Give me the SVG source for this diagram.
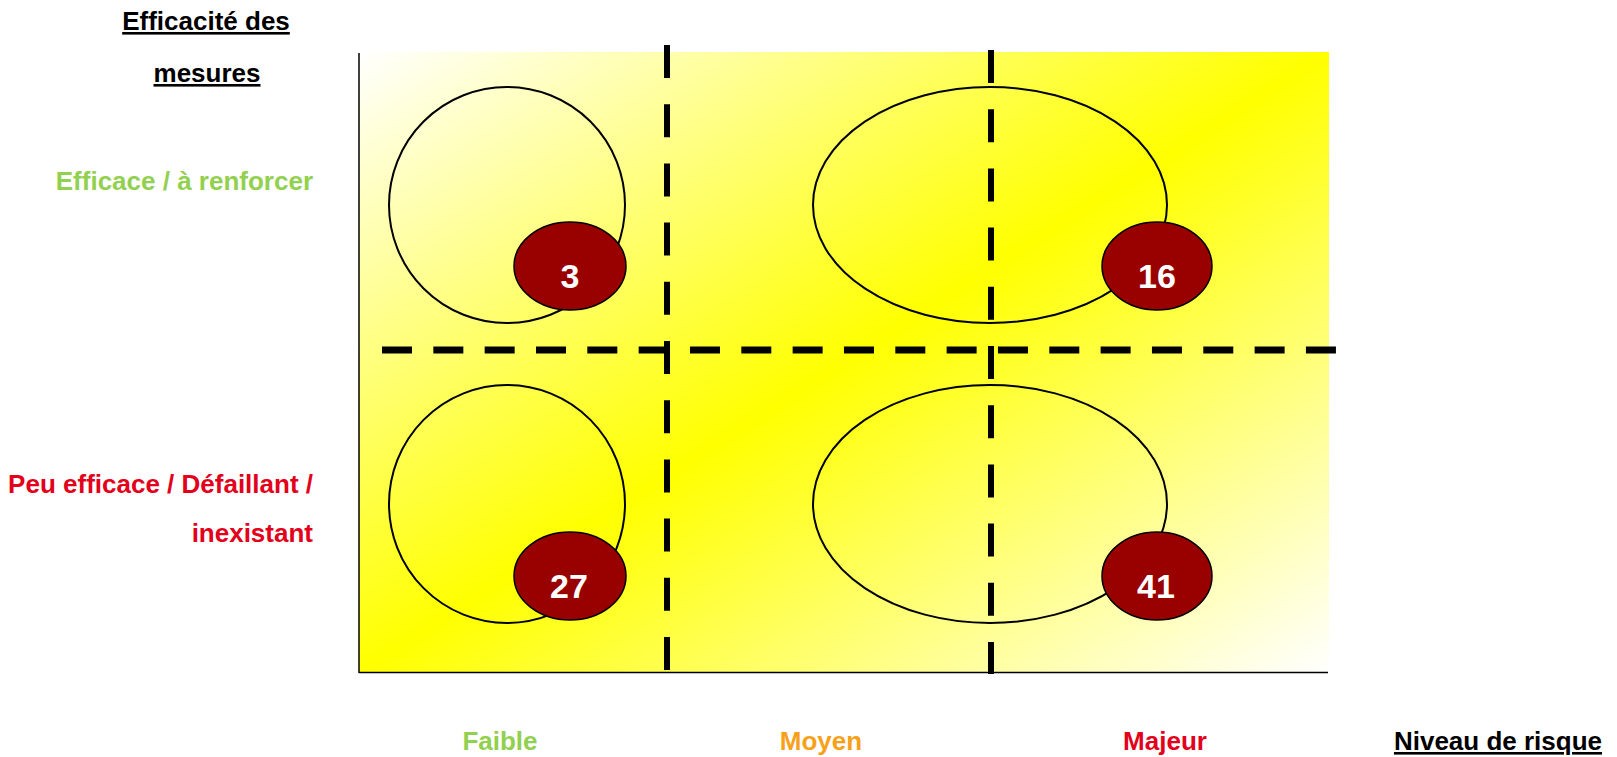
<svg xmlns="http://www.w3.org/2000/svg" width="1617" height="757" viewBox="0 0 1617 757">
  <defs>
    <linearGradient id="bg" x1="0" y1="0" x2="1" y2="1">
      <stop offset="0" stop-color="#FFFFFF"/>
      <stop offset="0.5" stop-color="#FFFF00"/>
      <stop offset="1" stop-color="#FFFFFF"/>
    </linearGradient>
  </defs>
  <style>
    text { font-family: "Liberation Sans", Arial, sans-serif; font-weight: bold; font-size: 26px; }
    .title { fill: #000000; text-decoration: underline; }
    .green { fill: #92D050; }
    .orange { fill: #F7A11A; }
    .red { fill: #E3001B; }
    .zone { fill: none; stroke: #000000; stroke-width: 2; }
    .count { fill: #990000; stroke: #000000; stroke-width: 1.5; }
    .num { fill: #FFFFFF; font-size: 34px; text-anchor: middle; }
    .vdash { stroke: #000000; stroke-width: 6; stroke-dasharray: 33 26.2; fill: none; }
    .hdash { stroke: #000000; stroke-width: 7; stroke-dasharray: 30 21.33; fill: none; }
    .axis { stroke: #000000; stroke-width: 1.5; fill: none; }
  </style>

  <g id="background">
    <rect x="359" y="52" width="970" height="620" fill="url(#bg)"/>
  </g>

  <g id="axes">
    <line class="axis" x1="359" y1="53" x2="359" y2="673"/>
    <line class="axis" x1="359" y1="672.5" x2="1328" y2="672.5"/>
  </g>

  <g id="grid">
    <line class="vdash" x1="667" y1="45" x2="667" y2="671"/>
    <line class="vdash" x1="991" y1="50" x2="991" y2="674"/>
    <line class="hdash" x1="382" y1="350" x2="1337" y2="350"/>
  </g>

  <g id="q-efficace-faible">
    <ellipse class="zone" cx="507" cy="205" rx="118" ry="118"/>
    <ellipse class="count" cx="570" cy="266" rx="56" ry="44"/>
    <text class="num" x="570" y="288">3</text>
  </g>

  <g id="q-efficace-majeur">
    <ellipse class="zone" cx="990" cy="205" rx="177" ry="118"/>
    <ellipse class="count" cx="1157" cy="266" rx="55" ry="44"/>
    <text class="num" x="1157" y="288">16</text>
  </g>

  <g id="q-defaillant-faible">
    <ellipse class="zone" cx="507" cy="504" rx="118" ry="119"/>
    <ellipse class="count" cx="570" cy="576" rx="56" ry="44"/>
    <text class="num" x="569" y="598">27</text>
  </g>

  <g id="q-defaillant-majeur">
    <ellipse class="zone" cx="990" cy="504" rx="177" ry="119"/>
    <ellipse class="count" cx="1157" cy="576" rx="55" ry="44"/>
    <text class="num" x="1156" y="598">41</text>
  </g>

  <g id="y-axis-labels">
    <text class="title" x="206" y="30" text-anchor="middle">Efficacité des</text>
    <text class="title" x="207" y="82" text-anchor="middle">mesures</text>
    <text class="green" x="313" y="190" text-anchor="end">Efficace / à renforcer</text>
    <text class="red" x="313" y="493" text-anchor="end">Peu efficace / Défaillant /</text>
    <text class="red" x="313" y="542" text-anchor="end">inexistant</text>
  </g>

  <g id="x-axis-labels">
    <text class="green" x="500" y="750" text-anchor="middle">Faible</text>
    <text class="orange" x="821" y="750" text-anchor="middle">Moyen</text>
    <text class="red" x="1165" y="750" text-anchor="middle">Majeur</text>
    <text class="title" x="1498" y="750" text-anchor="middle">Niveau de risque</text>
  </g>
</svg>
